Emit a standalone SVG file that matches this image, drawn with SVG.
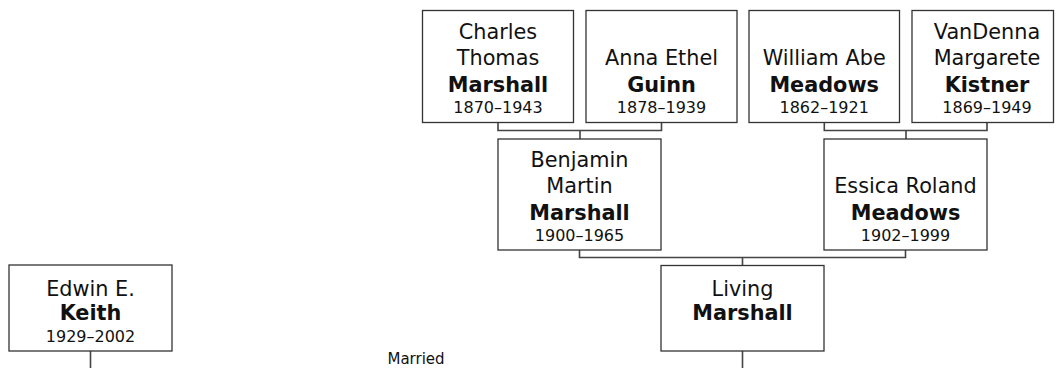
<svg xmlns="http://www.w3.org/2000/svg" width="1056" height="368" viewBox="0 0 1056 368">
<style>
.box{fill:#fff;stroke:#333;stroke-width:1.3}
.n{font-family:"DejaVu Sans",Verdana,sans-serif;font-size:20.8px;fill:#111;text-anchor:middle}
.b{font-weight:bold}
.d{font-family:"DejaVu Sans",Verdana,sans-serif;font-size:16px;fill:#111;text-anchor:middle}
.c{fill:none;stroke:#444;stroke-width:1.6}
.lbl{font-family:"DejaVu Sans",Verdana,sans-serif;font-size:15px;fill:#111;text-anchor:middle}
</style>
<rect width="1056" height="368" fill="#fff"/>
<g id="connectors">
<path class="c" d="M498 122.5V130.5H661.5V122.5M580 130.5V139"/>
<path class="c" d="M824.3 122.5V130.5H987V122.5M906 130.5V139"/>
<path class="c" d="M579.5 250V257.5H905.5V250M742.5 257.5V265.5"/>
<path class="c" d="M90.5 351V368"/>
<path class="c" d="M742.5 351V368"/>
</g>
<g id="charles">
<rect class="box" x="422.5" y="10.5" width="151" height="112"/>
<text class="n" x="498" y="39">Charles</text>
<text class="n" x="498" y="65">Thomas</text>
<text class="n b" x="498" y="91.5">Marshall</text>
<text class="d" x="498" y="113">1870–1943</text>
</g>
<g id="anna">
<rect class="box" x="586" y="10.5" width="151" height="112"/>
<text class="n" x="661.5" y="65">Anna Ethel</text>
<text class="n b" x="661.5" y="91.5">Guinn</text>
<text class="d" x="661.5" y="113">1878–1939</text>
</g>
<g id="william">
<rect class="box" x="749" y="10.5" width="150.5" height="112"/>
<text class="n" x="824.2" y="65">William Abe</text>
<text class="n b" x="824.2" y="91.5">Meadows</text>
<text class="d" x="824.2" y="113">1862–1921</text>
</g>
<g id="vandenna">
<rect class="box" x="912" y="10.5" width="141.5" height="112"/>
<text class="n" x="987" y="39">VanDenna</text>
<text class="n" x="987" y="65">Margarete</text>
<text class="n b" x="987" y="91.5">Kistner</text>
<text class="d" x="987" y="113">1869–1949</text>
</g>
<g id="benjamin">
<rect class="box" x="498" y="139" width="163" height="111"/>
<text class="n" x="579.5" y="167">Benjamin</text>
<text class="n" x="579.5" y="193.3">Martin</text>
<text class="n b" x="579.5" y="219.5">Marshall</text>
<text class="d" x="579.5" y="240.5">1900–1965</text>
</g>
<g id="essica">
<rect class="box" x="824" y="139" width="163" height="111"/>
<text class="n" x="905.5" y="193.3">Essica Roland</text>
<text class="n b" x="905.5" y="219.5">Meadows</text>
<text class="d" x="905.5" y="240.5">1902–1999</text>
</g>
<g id="edwin">
<rect class="box" x="9" y="265" width="163" height="86"/>
<text class="n" x="90.5" y="295.7">Edwin E.</text>
<text class="n b" x="90.5" y="320">Keith</text>
<text class="d" x="90.5" y="341.7">1929–2002</text>
</g>
<g id="living">
<rect class="box" x="661" y="265.5" width="163" height="85.5"/>
<text class="n" x="742.5" y="295.5">Living</text>
<text class="n b" x="742.5" y="320">Marshall</text>
</g>
<g id="married">
<text class="lbl" x="416" y="364">Married</text>
</g>
</svg>
